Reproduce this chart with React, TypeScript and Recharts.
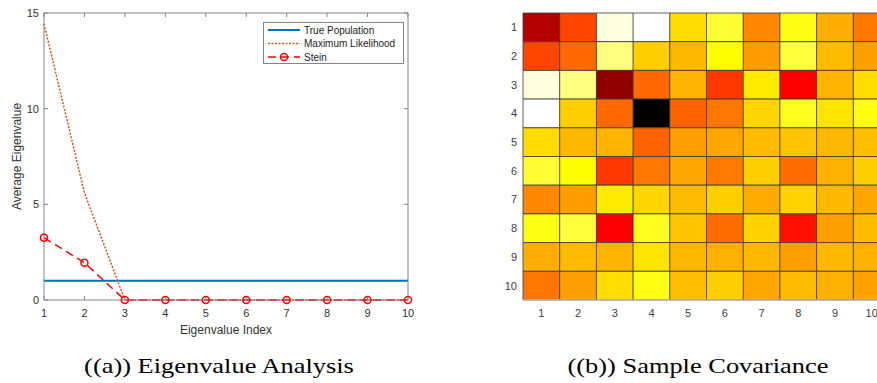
import React from 'react';
import { LineChart, Line, XAxis, YAxis, Legend, BarChart, Bar, Cell } from 'recharts';

// left panel: average eigenvalues per index
const eigIndex = [1, 2, 3, 4, 5, 6, 7, 8, 9, 10];
const truePopulation = [1, 1, 1, 1, 1, 1, 1, 1, 1, 1];
const maxLikelihood = [14.43, 5.6, 0, 0, 0, 0, 0, 0, 0, 0];
const stein = [3.26, 1.95, 0, 0, 0, 0, 0, 0, 0, 0];
const eigTicks = [0, 5, 10, 15];

// right panel: sample covariance, scaled 0..1 for the hot colormap
const covLabels = ['1', '2', '3', '4', '5', '6', '7', '8', '9', '10'];
const covariance = [
  [0.265, 0.476, 0.97, 1.0, 0.7, 0.8, 0.575, 0.77, 0.63, 0.55],
  [0.476, 0.53, 0.875, 0.68, 0.645, 0.75, 0.605, 0.81, 0.65, 0.61],
  [0.97, 0.875, 0.212, 0.53, 0.64, 0.457, 0.72, 0.375, 0.64, 0.7],
  [1.0, 0.68, 0.53, 0.0, 0.52, 0.55, 0.69, 0.78, 0.71, 0.77],
  [0.7, 0.645, 0.64, 0.52, 0.61, 0.62, 0.65, 0.665, 0.645, 0.655],
  [0.8, 0.75, 0.457, 0.55, 0.62, 0.555, 0.68, 0.535, 0.635, 0.68],
  [0.575, 0.605, 0.72, 0.69, 0.65, 0.68, 0.625, 0.685, 0.645, 0.62],
  [0.77, 0.81, 0.375, 0.78, 0.665, 0.535, 0.685, 0.399, 0.61, 0.65],
  [0.63, 0.65, 0.64, 0.71, 0.645, 0.635, 0.645, 0.61, 0.645, 0.635],
  [0.55, 0.61, 0.7, 0.77, 0.655, 0.68, 0.62, 0.65, 0.635, 0.615],
];

const series = [
  { key: 'truePop', name: 'True Population', color: '#0072bd', dash: undefined, width: 2 },
  { key: 'ml', name: 'Maximum Likelihood', color: '#d95319', dash: '2 1.5', width: 1.5 },
  { key: 'stein', name: 'Stein', color: '#ff0000', dash: '8 5', width: 1.5 },
];

const eigData = eigIndex.map((x, i) => ({
  idx: x,
  truePop: truePopulation[i],
  ml: maxLikelihood[i],
  stein: stein[i],
}));

const covData = covLabels.map((c, j) => {
  const row: Record<string, any> = { col: c };
  covLabels.forEach((_, i) => (row['r' + i] = 1));
  return row;
});

const clamp = (v: number) => Math.max(0, Math.min(1, v));
function hot(t: number) {
  const r = clamp(t / 0.375);
  const g = clamp((t - 0.375) / 0.375);
  const b = clamp((t - 0.75) / 0.25);
  const h = (v: number) => Math.round(v * 255).toString(16).padStart(2, '0');
  return '#' + h(r) + h(g) + h(b);
}

const font = '"Liberation Sans", Arial, sans-serif';
const axisGray = '#858585';
const textGray = '#333';
const noTick = () => <g />;

function EigLegend() {
  return (
    <svg width={141} height={42} style={{ display: 'block' }}>
      <rect x={0.5} y={0.5} width={140} height={41} fill="#fff" stroke={axisGray} />
      {series.map((s, i) => {
        const y = 8 + i * 13.5;
        return (
          <g key={s.key}>
            <line x1={5} x2={37} y1={y} y2={y} stroke={s.color} strokeWidth={s.width} strokeDasharray={s.dash} />
            {s.key === 'stein' && <circle cx={21} cy={y} r={3.5} fill="none" stroke={s.color} strokeWidth={1.5} />}
            <text x={41} y={y + 3.5} fontSize={10} fontFamily={font} fill="#222">
              {s.name}
            </text>
          </g>
        );
      })}
    </svg>
  );
}

function XLabel({ viewBox }: any) {
  return (
    <text x={viewBox.x + viewBox.width / 2} y={334} textAnchor="middle" fontSize={12} fontFamily={font} fill={textGray}>
      Eigenvalue Index
    </text>
  );
}

function YLabel({ viewBox }: any) {
  const cy = viewBox.y + viewBox.height / 2;
  return (
    <text x={21} y={cy} transform={`rotate(-90, 21, ${cy})`} textAnchor="middle" fontSize={12} fontFamily={font} fill={textGray}>
      Average Eigenvalue
    </text>
  );
}

const captionStyle: React.CSSProperties = {
  position: 'absolute',
  top: 353,
  fontFamily: '"Liberation Serif", "DejaVu Serif", serif',
  fontSize: 22,
  color: '#000',
  textAlign: 'center',
  whiteSpace: 'nowrap',
  transform: 'scaleX(1.2)',
};

export default function App() {
  return (
    <div style={{ position: 'absolute', left: 0, top: 0, width: 877, height: 383, overflow: 'hidden', background: '#fff' }}>
      <div style={{ position: 'absolute', left: 0, top: 0 }}>
        <LineChart width={420} height={340} data={eigData} margin={{ top: 13, right: 12, left: 0, bottom: 0 }}>
          <XAxis
            dataKey="idx"
            type="number"
            domain={[1, 10]}
            ticks={eigIndex}
            height={40}
            tickLine={false}
            tickSize={0}
            tickMargin={9}
            stroke={axisGray}
            tick={{ fill: textGray, fontSize: 11, fontFamily: font }}
            label={<XLabel />}
          />
          {/* inward tick marks and the box, as in MATLAB */}
          <XAxis xAxisId="bIn" orientation="bottom" mirror dataKey="idx" type="number" domain={[1, 10]} allowDataOverflow ticks={eigIndex} tickSize={4} axisLine={false} tick={noTick} stroke={axisGray} />
          <XAxis xAxisId="top" orientation="top" mirror dataKey="idx" type="number" domain={[1, 10]} allowDataOverflow ticks={eigIndex} tickSize={4} tick={noTick} stroke={axisGray} />
          <YAxis
            type="number"
            domain={[0, 15]}
            ticks={eigTicks}
            width={44}
            tickLine={false}
            tickSize={0}
            tickMargin={5}
            stroke={axisGray}
            tick={{ fill: textGray, fontSize: 11, fontFamily: font }}
            label={<YLabel />}
          />
          <YAxis yAxisId="lIn" orientation="left" mirror type="number" domain={[0, 15]} allowDataOverflow ticks={eigTicks} tickSize={4} axisLine={false} tick={noTick} stroke={axisGray} />
          <YAxis yAxisId="right" orientation="right" mirror type="number" domain={[0, 15]} allowDataOverflow ticks={eigTicks} tickSize={4} tick={noTick} stroke={axisGray} />
          <Legend
            layout="vertical"
            align="center"
            verticalAlign="middle"
            content={<EigLegend />}
            wrapperStyle={{ left: 263, top: 22, width: 141, height: 42 }}
          />
          <Line xAxisId="bIn" yAxisId="lIn" dataKey="truePop" stroke="none" dot={false} legendType="none" isAnimationActive={false} />
          <Line xAxisId="top" yAxisId="right" dataKey="truePop" stroke="none" dot={false} legendType="none" isAnimationActive={false} />
          <Line dataKey="truePop" stroke="#0072bd" strokeWidth={2} dot={false} isAnimationActive={false} />
          <Line dataKey="ml" stroke="#d95319" strokeWidth={1.5} strokeDasharray="2 1.5" dot={false} isAnimationActive={false} />
          <Line
            dataKey="stein"
            stroke="#ff0000"
            strokeWidth={1.5}
            strokeDasharray="8 5"
            dot={{ r: 3.5, fill: 'none', stroke: '#ff0000', strokeWidth: 1.5, strokeDasharray: '' }}
            isAnimationActive={false}
          />
        </LineChart>
      </div>

      <div style={{ position: 'absolute', left: 440, top: 0 }}>
        <BarChart width={460} height={340} data={covData} margin={{ top: 13, right: 10, left: 0, bottom: 0 }} barCategoryGap={0} barGap={0}>
          <XAxis
            dataKey="col"
            height={40}
            interval={0}
            tickLine={false}
            tickSize={0}
            tickMargin={9}
            axisLine={{ stroke: '#bdbdbd', strokeWidth: 1.5 }}
            tick={{ fill: '#404040', fontSize: 11, fontFamily: font }}
          />
          <YAxis
            type="number"
            domain={[0, 10]}
            reversed
            ticks={[0.5, 1.5, 2.5, 3.5, 4.5, 5.5, 6.5, 7.5, 8.5, 9.5]}
            tickFormatter={(v: number) => String(v + 0.5)}
            width={83}
            axisLine={false}
            tickLine={false}
            tickSize={0}
            tickMargin={6}
            tick={{ fill: '#404040', fontSize: 11, fontFamily: font }}
          />
          {covLabels.map((_, i) => (
            <Bar key={i} dataKey={'r' + i} stackId="cov" stroke="#3a3a3a" strokeWidth={0.8} isAnimationActive={false}>
              {covLabels.map((__, j) => (
                <Cell key={j} fill={hot(covariance[i][j])} />
              ))}
            </Bar>
          ))}
        </BarChart>
      </div>

      <div style={{ ...captionStyle, left: 0, width: 438 }}>((a)) Eigenvalue Analysis</div>
      <div style={{ ...captionStyle, left: 458, width: 480 }}>((b)) Sample Covariance</div>
    </div>
  );
}
